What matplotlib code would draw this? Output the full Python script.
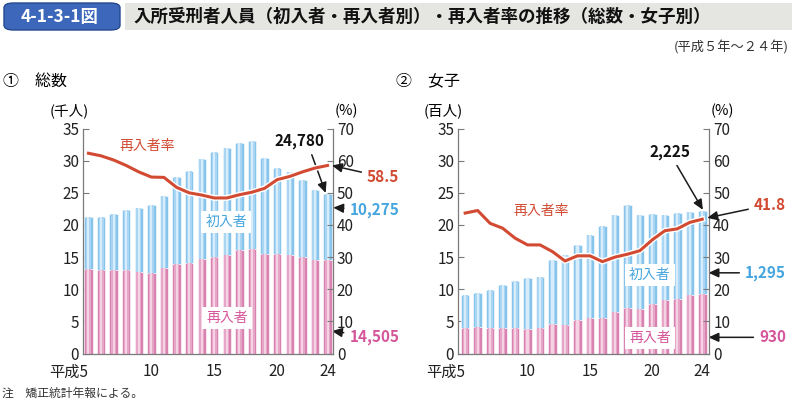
import matplotlib
matplotlib.use("Agg")
import matplotlib.pyplot as plt
import matplotlib.patheffects as pe
from matplotlib.patches import FancyBboxPatch, Rectangle
from matplotlib.transforms import ScaledTranslation

plt.rcParams["font.family"] = ["Noto Sans CJK JP", "DejaVu Sans"]

# ── Data ──────────────────────────────────────────────────────────────────────
years = list(range(5, 25))                       # 平成5年〜24年
xticks = [5, 10, 15, 20, 24]

# ① 総数 (千人)
re_all = [13.1, 12.97, 13.0, 13.0, 12.65, 12.55, 13.3, 13.9, 14.05, 14.7,
          15.0, 15.4, 16.1, 16.3, 15.45, 15.45, 15.35, 15.0, 14.6, 14.505]
first_all = [8.1, 8.23, 8.75, 9.3, 9.95, 10.5, 11.2, 13.5, 14.35, 15.55,
             16.3, 16.6, 16.6, 16.7, 14.95, 13.4, 12.85, 12.0, 10.9, 10.275]
rate_all = [62.3, 61.5, 60.2, 58.5, 56.5, 54.9, 54.8, 51.7, 50.0, 49.3,
            48.4, 48.4, 49.4, 50.2, 51.4, 54.1, 55.1, 56.5, 57.7, 58.5]

# ② 女子 (百人)
re_f = [3.98, 4.13, 3.98, 4.03, 3.98, 3.88, 3.98, 4.55, 4.39, 5.17,
        5.58, 5.58, 6.4, 7.08, 6.92, 7.75, 8.27, 8.53, 9.15, 9.30]
first_f = [5.06, 5.22, 5.94, 6.57, 7.32, 7.92, 7.92, 9.95, 11.01, 11.73,
           12.87, 14.27, 15.2, 16.07, 14.68, 14.0, 13.23, 13.32, 12.9, 12.95]
rate_f = [43.7, 44.5, 40.5, 39.0, 35.9, 33.8, 33.8, 31.7, 28.8, 30.4,
          30.4, 28.6, 30.0, 30.9, 32.0, 35.4, 38.2, 38.8, 40.8, 41.8]

# ── Styling ───────────────────────────────────────────────────────────────────
BLUE = ["#86c4ec", "#aad6f3", "#d8edfb"]
PINK = ["#d982b0", "#e6a6c8", "#f5d3e5"]
RED = "#d24a32"
TXT_BLUE = "#45a5de"
TXT_PINK = "#d5559a"
AXC = "#7a7a7a"
W, H = 792, 401


def fpx(x, y):
    """pixel position -> figure fraction"""
    return x / W, 1 - y / H


def shaded_bars(ax, x, h, bottom, cols, width):
    ax.bar(x, h, bottom=bottom, width=width, color=cols[0],
           edgecolor="white", linewidth=0.4, zorder=2)
    ax.bar(x, h, bottom=bottom, width=width * 0.6, color=cols[1],
           linewidth=0, zorder=2.1)
    ax.bar(x, h, bottom=bottom, width=width * 0.25, color=cols[2],
           linewidth=0, zorder=2.2)


def panel(rect, re, first, rate, xlim, width):
    ax = fig.add_axes(rect)
    shaded_bars(ax, years, re, 0, PINK, width)
    shaded_bars(ax, years, first, re, BLUE, width)
    ax.set_xlim(*xlim)
    ax.set_ylim(0, 35)
    ax.set_yticks(range(0, 36, 5))
    ax.set_xticks(xticks)
    ax.set_xticklabels(["平成5"] + [str(v) for v in xticks[1:]])
    lab0 = ax.get_xticklabels()[0]
    lab0.set_horizontalalignment("right")
    lab0.set_transform(lab0.get_transform() +
                       ScaledTranslation(4.5 / 100, 0, fig.dpi_scale_trans))
    ax.tick_params(axis="x", length=0, pad=7, labelsize=11, labelcolor="#222222")
    ax.tick_params(axis="y", direction="in", length=4, color=AXC,
                   labelsize=11, labelcolor="#222222", pad=3)
    for s in ["top", "right"]:
        ax.spines[s].set_visible(False)
    for s in ["left", "bottom"]:
        ax.spines[s].set_color(AXC)
        ax.spines[s].set_linewidth(0.9)

    ax2 = ax.twinx()
    ax2.plot(years, rate, color=RED, lw=2.2, zorder=5,
             path_effects=[pe.Stroke(linewidth=4.2, foreground="white"), pe.Normal()])
    ax2.set_ylim(0, 70)
    ax2.set_yticks(range(0, 71, 10))
    ax2.tick_params(axis="y", direction="in", length=4, color=AXC,
                    labelsize=11, labelcolor="#222222", pad=3)
    for s in ["top", "left", "bottom"]:
        ax2.spines[s].set_visible(False)
    ax2.spines["right"].set_color(AXC)
    ax2.spines["right"].set_linewidth(0.9)
    return ax, ax2


def box_label(ax, x, y, s, color):
    ax.text(x, y, s, color=color, fontsize=10, ha="center", va="center", zorder=6,
            bbox=dict(boxstyle="square,pad=0.3", facecolor="white", edgecolor="none"))


def arrow_label(ax, s, xy, xytext, color, ha="center", relpos=None):
    props = dict(arrowstyle="-|>,head_length=0.55,head_width=0.25",
                 color="#1a1a1a", lw=1.1, shrinkA=2, shrinkB=0)
    if relpos is not None:
        props["relpos"] = relpos
    ax.annotate(s, xy=xy, xytext=xytext, color=color, fontsize=11,
                fontweight="bold", ha=ha, va="center", annotation_clip=False,
                zorder=7, arrowprops=props)


fig = plt.figure(figsize=(W / 100, H / 100), dpi=100)

# ── Header ────────────────────────────────────────────────────────────────────
fig.patches.append(Rectangle(fpx(125, 30), 667 / W, 27 / H, transform=fig.transFigure,
                             facecolor="#e5e5e1", edgecolor="none"))
fig.patches.append(FancyBboxPatch(fpx(4, 30), 116 / W, 27 / H,
                                  boxstyle="round,pad=0,rounding_size=0.012",
                                  transform=fig.transFigure,
                                  facecolor="#3c67ba", edgecolor="#24498f", lw=1))
fig.text(*fpx(60, 17), "4-1-3-1図", color="white", fontsize=12.5,
         fontweight="bold", ha="center", va="center")
fig.text(*fpx(134, 17),
         "入所受刑者人員（初入者・再入者別）・再入者率の推移（総数・女子別）",
         fontsize=12.6, fontweight="bold", ha="left", va="center", color="#111111")
fig.text(*fpx(789, 47), "(平成５年～２４年)", fontsize=9.5, ha="right",
         va="center", color="#333333")

fig.text(*fpx(3, 81), "①　総数", fontsize=11.5, ha="left", va="center")
fig.text(*fpx(396, 81), "②　女子", fontsize=11.5, ha="left", va="center")
fig.text(*fpx(69, 111), "(千人)", fontsize=10.5, ha="center", va="center")
fig.text(*fpx(346, 111), "(%)", fontsize=10.5, ha="center", va="center")
fig.text(*fpx(443, 111), "(百人)", fontsize=10.5, ha="center", va="center")
fig.text(*fpx(722, 111), "(%)", fontsize=10.5, ha="center", va="center")
fig.text(*fpx(2, 393), "注　矯正統計年報による。", fontsize=8.5, ha="left",
         va="center", color="#333333")

# ── ① 総数 ────────────────────────────────────────────────────────────────────
bottom = 1 - 353.6 / H
height = (353.6 - 128.5) / H
axL, axL2 = panel([83.3 / W, bottom, (332.7 - 83.3) / W, height],
                  re_all, first_all, rate_all, (4.59, 24.41), 0.66)
axL2.text(9.65, 64.5, "再入者率", color=RED, fontsize=10, ha="center", va="center")
box_label(axL, 15.95, 20.5, "初入者", TXT_BLUE)
box_label(axL, 16.0, 5.5, "再入者", TXT_PINK)
arrow_label(axL, "24,780", (23.85, re_all[-1] + first_all[-1] + 0.2), (21.8, 33.0),
            "#111111", relpos=(0.7, 0))
arrow_label(axL2, "58.5", (24.35, rate_all[-1]), (29.7, 54.9), RED, ha="right")
arrow_label(axL, "10,275", (24.45, 22.7), (29.7, 22.3), TXT_BLUE, ha="right")
arrow_label(axL, "14,505", (24.35, 3.5), (29.7, 2.6), TXT_PINK, ha="right")

# ── ② 女子 ────────────────────────────────────────────────────────────────────
axR, axR2 = panel([458.3 / W, bottom, (709 - 458.3) / W, height],
                  re_f, first_f, rate_f, (4.45, 24.54), 0.68)
axR2.text(11.13, 44.3, "再入者率", color=RED, fontsize=10, ha="center", va="center")
box_label(axR, 19.8, 12.25, "初入者", TXT_BLUE)
box_label(axR, 19.8, 2.45, "再入者", TXT_PINK)
arrow_label(axR, "2,225", (24.05, re_f[-1] + first_f[-1] + 0.1), (21.4, 31.3),
            "#111111", relpos=(0.6, 0))
arrow_label(axR2, "41.8", (24.4, 42.2), (30.7, 46.3), RED, ha="right")
arrow_label(axR, "1,295", (24.5, 12.56), (30.7, 12.56), TXT_BLUE, ha="right")
arrow_label(axR, "930", (24.5, 2.53), (30.7, 2.53), TXT_PINK, ha="right")

fig.savefig("out.png", dpi=100)
